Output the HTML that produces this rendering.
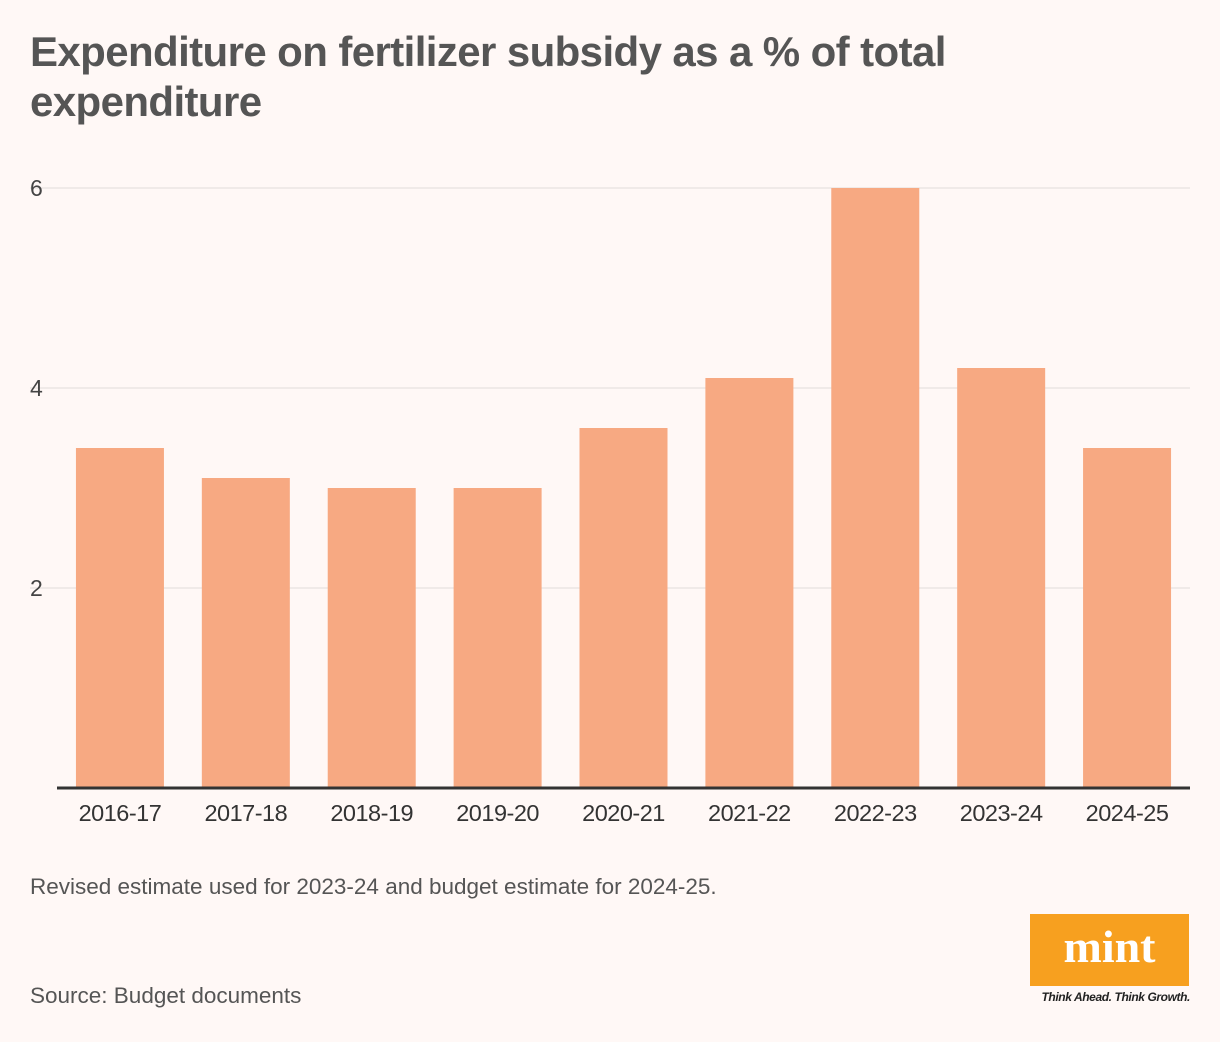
<!DOCTYPE html>
<html><head><meta charset="utf-8"><style>
body{margin:0;width:1220px;height:1042px;background:#fff8f6;font-family:"Liberation Sans",sans-serif;position:relative;overflow:hidden}
.t{position:absolute;left:30px;top:27px;font-size:42px;font-weight:bold;color:#555;line-height:50px;letter-spacing:-0.6px}
.n{position:absolute;left:30px;font-size:22.5px;color:#555}
</style></head><body>
<div class="t">Expenditure on fertilizer subsidy as a % of total<br>expenditure</div>
<svg id="c" width="1220" height="1042" style="position:absolute;left:0;top:0"></svg>
<div class="n" style="top:874px">Revised estimate used for 2023-24 and budget estimate for 2024-25.</div>
<div class="n" style="top:983px">Source: Budget documents</div>
<div style="position:absolute;left:1030px;top:914px;width:159px;height:72px;background:#f7a01f;color:#fff;font-family:'Liberation Serif',serif;font-weight:bold;font-size:46px;text-align:center;line-height:66px">mint</div>
<div style="position:absolute;left:1030px;top:990px;width:160px;font-size:12px;font-style:italic;font-weight:bold;color:#222;letter-spacing:-0.4px;text-align:right">Think Ahead. Think Growth.</div>
<script>
const categories=["2016-17","2017-18","2018-19","2019-20","2020-21","2021-22","2022-23","2023-24","2024-25"];
const values=[3.4,3.1,3.0,3.0,3.6,4.1,6.0,4.2,3.4];
const ticks=[2,4,6];
const svg=document.getElementById('c');const NS="http://www.w3.org/2000/svg";
const x0=57,x1=1190,y0=788,ymax=6,ytop=188;
const y=v=>y0-(y0-ytop)*v/ymax;
const bw=(x1-x0)/categories.length;
function mk(t,a,txt){const e=document.createElementNS(NS,t);for(const k in a)e.setAttribute(k,a[k]);if(txt!==undefined)e.textContent=txt;svg.appendChild(e);return e;}
ticks.forEach(t=>{
 const g=mk('line',{x1:30,x2:x1,y1:y(t),y2:y(t),stroke:'#e2dcda','stroke-width':1});
 
 
 const l=mk('text',{x:30,y:y(t)+8,'font-size':23,fill:'#444','font-family':'Liberation Sans, sans-serif'},t);
 
 
});
categories.forEach((c,i)=>{
 const cx=x0+bw*(i+0.5);
 const r=mk('rect',{x:cx-44,y:y(values[i]),width:88,height:y0-y(values[i]),fill:'#f7a982'});
 
 
 const l=mk('text',{x:cx,y:821,'font-size':23.5,fill:'#333','text-anchor':'middle','font-family':'Liberation Sans, sans-serif','letter-spacing':'-0.5'},c);
 
 
});
const ax=mk('line',{x1:x0,x2:x1,y1:y0,y2:y0,stroke:'#333','stroke-width':3});


</script>
</body></html>
